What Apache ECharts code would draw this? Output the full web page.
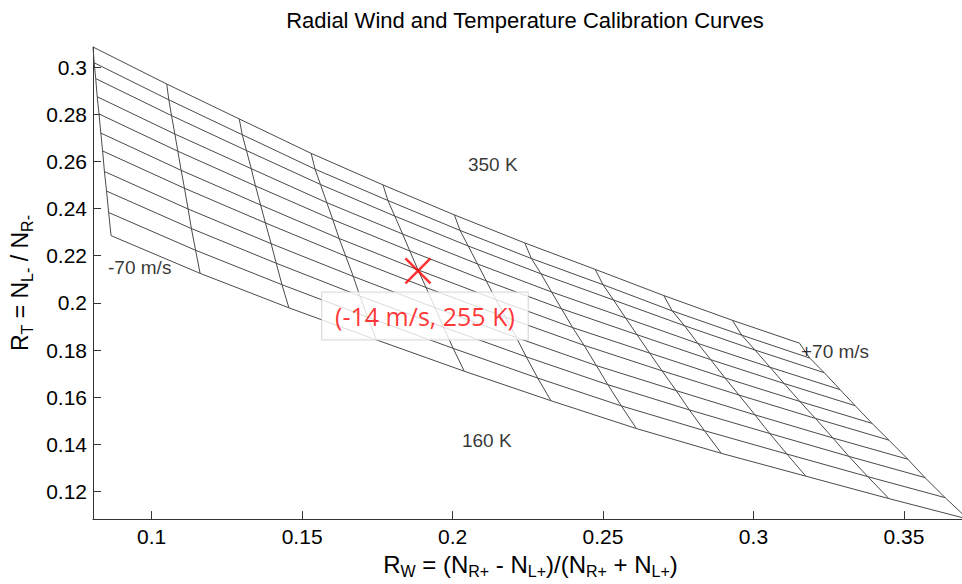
<!DOCTYPE html>
<html><head><meta charset="utf-8">
<script src="https://cdn.jsdelivr.net/npm/echarts@6/dist/echarts.min.js"></script>
<style>html,body{margin:0;padding:0;overflow:hidden;background:#fff;} #c{width:972px;height:584px;}</style>
</head><body><div id="c"></div>
<script>
// ---- data ----
const windSpeeds = [-70, -56, -42, -28, -14, 0, 14, 28, 42, 56, 70];        // m/s
const temperatures = [160, 179, 198, 217, 236, 255, 274, 293, 312, 331, 350]; // K
// R_W of each grid node: one row per temperature, one column per wind speed
const rwByTemp = [
  [0.0865, 0.1161, 0.1456, 0.1747, 0.2039, 0.2327, 0.2611, 0.2893, 0.3174, 0.3450, 0.3713],
  [0.0857, 0.1146, 0.1433, 0.1718, 0.2002, 0.2283, 0.2561, 0.2837, 0.3111, 0.3380, 0.3637],
  [0.0850, 0.1132, 0.1414, 0.1692, 0.1970, 0.2245, 0.2516, 0.2787, 0.3054, 0.3317, 0.3570],
  [0.0843, 0.1121, 0.1397, 0.1670, 0.1942, 0.2212, 0.2478, 0.2743, 0.3005, 0.3264, 0.3513],
  [0.0837, 0.1109, 0.1378, 0.1645, 0.1912, 0.2176, 0.2437, 0.2696, 0.2952, 0.3206, 0.3450],
  [0.0831, 0.1098, 0.1362, 0.1623, 0.1885, 0.2144, 0.2399, 0.2655, 0.2905, 0.3154, 0.3394],
  [0.0825, 0.1087, 0.1345, 0.1602, 0.1858, 0.2112, 0.2362, 0.2613, 0.2858, 0.3102, 0.3338],
  [0.0819, 0.1077, 0.1331, 0.1582, 0.1834, 0.2083, 0.2329, 0.2575, 0.2815, 0.3055, 0.3288],
  [0.0814, 0.1066, 0.1315, 0.1561, 0.1808, 0.2052, 0.2294, 0.2535, 0.2771, 0.3005, 0.3235],
  [0.0809, 0.1057, 0.1301, 0.1543, 0.1785, 0.2025, 0.2262, 0.2500, 0.2730, 0.2961, 0.3187],
  [0.0805, 0.1050, 0.1291, 0.1530, 0.1769, 0.2006, 0.2240, 0.2474, 0.2702, 0.2930, 0.3153]
];
// R_T of each grid node: one row per temperature, one column per wind speed
const rtByTemp = [
  [0.2285, 0.2125, 0.1979, 0.1843, 0.1710, 0.1585, 0.1467, 0.1362, 0.1265, 0.1170, 0.1083],
  [0.2383, 0.2223, 0.2077, 0.1939, 0.1807, 0.1681, 0.1563, 0.1458, 0.1359, 0.1263, 0.1174],
  [0.2474, 0.2315, 0.2168, 0.2029, 0.1897, 0.1771, 0.1653, 0.1546, 0.1446, 0.1349, 0.1259],
  [0.2557, 0.2398, 0.2251, 0.2112, 0.1979, 0.1853, 0.1734, 0.1628, 0.1525, 0.1427, 0.1337],
  [0.2644, 0.2486, 0.2339, 0.2198, 0.2065, 0.1939, 0.1820, 0.1712, 0.1609, 0.1510, 0.1418],
  [0.2720, 0.2562, 0.2415, 0.2273, 0.2140, 0.2014, 0.1895, 0.1787, 0.1682, 0.1582, 0.1489],
  [0.2801, 0.2643, 0.2496, 0.2353, 0.2220, 0.2093, 0.1975, 0.1865, 0.1759, 0.1658, 0.1564],
  [0.2874, 0.2716, 0.2569, 0.2425, 0.2292, 0.2165, 0.2046, 0.1936, 0.1828, 0.1727, 0.1632],
  [0.2951, 0.2794, 0.2646, 0.2502, 0.2368, 0.2241, 0.2123, 0.2012, 0.1903, 0.1800, 0.1704],
  [0.3018, 0.2861, 0.2713, 0.2567, 0.2434, 0.2307, 0.2188, 0.2077, 0.1966, 0.1863, 0.1766],
  [0.3085, 0.2928, 0.2780, 0.2634, 0.2500, 0.2373, 0.2254, 0.2142, 0.2031, 0.1926, 0.1829]
];
const xTicks = [0.1, 0.15, 0.2, 0.25, 0.3, 0.35];
const yTicks = [0.12, 0.14, 0.16, 0.18, 0.2, 0.22, 0.24, 0.26, 0.28, 0.3];
const xRange = [0.0805, 0.3713];
const yRange = [0.1083, 0.3085];
const markerPoint = [0.1885, 0.2136];
const markerText = '(-14 m/s, 255 K)';
const annotationTexts = ['350 K', '160 K', '-70 m/s', '+70 m/s'];
const annotationRw = [0.2051, 0.2031, 0.0855, 0.3158];
const annotationRt = [0.2585, 0.1417, 0.2151, 0.1792];

// ---- chart ----
const chart = echarts.init(document.getElementById('c'), null, {renderer: 'svg'});
const LINE = {color: '#4a4a4a', width: 1};
const FONT = 'Liberation Sans, Arial, sans-serif';
const series = [];
temperatures.forEach((t, j) => {
  series.push({
    type: 'line', name: t + ' K', silent: true, symbol: 'none', z: 2,
    lineStyle: LINE, animation: false,
    data: windSpeeds.map((w, i) => [rwByTemp[j][i], rtByTemp[j][i]])
  });
});
windSpeeds.forEach((w, i) => {
  series.push({
    type: 'line', name: w + ' m/s', silent: true, symbol: 'none', z: 2,
    lineStyle: LINE, animation: false,
    data: temperatures.map((t, j) => [rwByTemp[j][i], rtByTemp[j][i]])
  });
});
series.push({
  type: 'scatter', silent: true, z: 4, animation: false,
  symbolSize: 0,
  data: annotationTexts.map((s, k) => ({name: s, value: [annotationRw[k], annotationRt[k]]})),
  label: {show: true, position: 'right', distance: 0, formatter: p => p.name,
    color: '#000', fontSize: 19, fontFamily: FONT}
});
series.push({
  type: 'scatter', silent: true, z: 6, animation: false,
  symbol: 'path://M0,0L10,10M10,0L0,10', symbolSize: 25,
  itemStyle: {color: 'rgba(0,0,0,0)', borderColor: '#ff0000', borderWidth: 2.5},
  data: [{value: markerPoint, name: markerText}],
  label: {show: true, position: 'bottom', distance: 8, offset: [7, 0], formatter: p => p.name,
    color: '#ff0000', fontSize: 25, fontFamily: 'Open Sans, Lato, sans-serif',
    backgroundColor: '#ffffff', borderColor: '#cfcfcf', borderWidth: 1, padding: [11, 13, 11, 13]}
});

const fmt = v => String(+(+v).toFixed(2));
const AX = '#333';
chart.setOption({
  animation: false,
  backgroundColor: '#fff',
  grid: {left: 93, top: 47, width: 875, height: 480, containLabel: false},
  graphic: [{
    type: 'text', x: 525, y: 20,
    style: {text: 'Radial Wind and Temperature Calibration Curves', fill: '#000',
      font: '22px "Liberation Sans", Arial, sans-serif', textAlign: 'center', textVerticalAlign: 'middle'}
  }],
  xAxis: {
    type: 'value', min: xRange[0], max: xRange[1],
    axisLine: {show: true, lineStyle: {color: AX, width: 1}},
    axisTick: {show: true, inside: true, length: 8, customValues: xTicks, lineStyle: {color: AX}},
    axisLabel: {customValues: xTicks, formatter: fmt, color: '#000', fontSize: 21, margin: 7,
      fontFamily: FONT},
    splitLine: {show: false},
    name: '{m|R}{s|W}{m| = (N}{s|R+}{m| - N}{s|L+}{m|)/(N}{s|R+}{m| + N}{s|L+}{m|)}',
    nameLocation: 'middle', nameGap: 24,
    nameTextStyle: {color: '#000', fontFamily: FONT,
      rich: {m: {fontSize: 24, color: '#000', fontFamily: FONT},
             s: {fontSize: 16, color: '#000', fontFamily: FONT, padding: [14, 0, 0, 0]}}}
  },
  yAxis: {
    type: 'value', min: yRange[0], max: yRange[1],
    axisLine: {show: true, lineStyle: {color: AX, width: 1}},
    axisTick: {show: true, inside: true, length: 8, customValues: yTicks, lineStyle: {color: AX}},
    axisLabel: {customValues: yTicks, formatter: fmt, color: '#000', fontSize: 21, margin: 6,
      fontFamily: FONT},
    splitLine: {show: false},
    name: '{m|R}{s|T}{m| = N}{s|L-}{m| / N}{s|R-}',
    nameLocation: 'middle', nameGap: 56,
    nameTextStyle: {color: '#000', fontFamily: FONT,
      rich: {m: {fontSize: 23, color: '#000', fontFamily: FONT},
             s: {fontSize: 16, color: '#000', fontFamily: FONT, padding: [14, 0, 0, 0]}}}
  },
  series: series
});
</script>
</body></html>
